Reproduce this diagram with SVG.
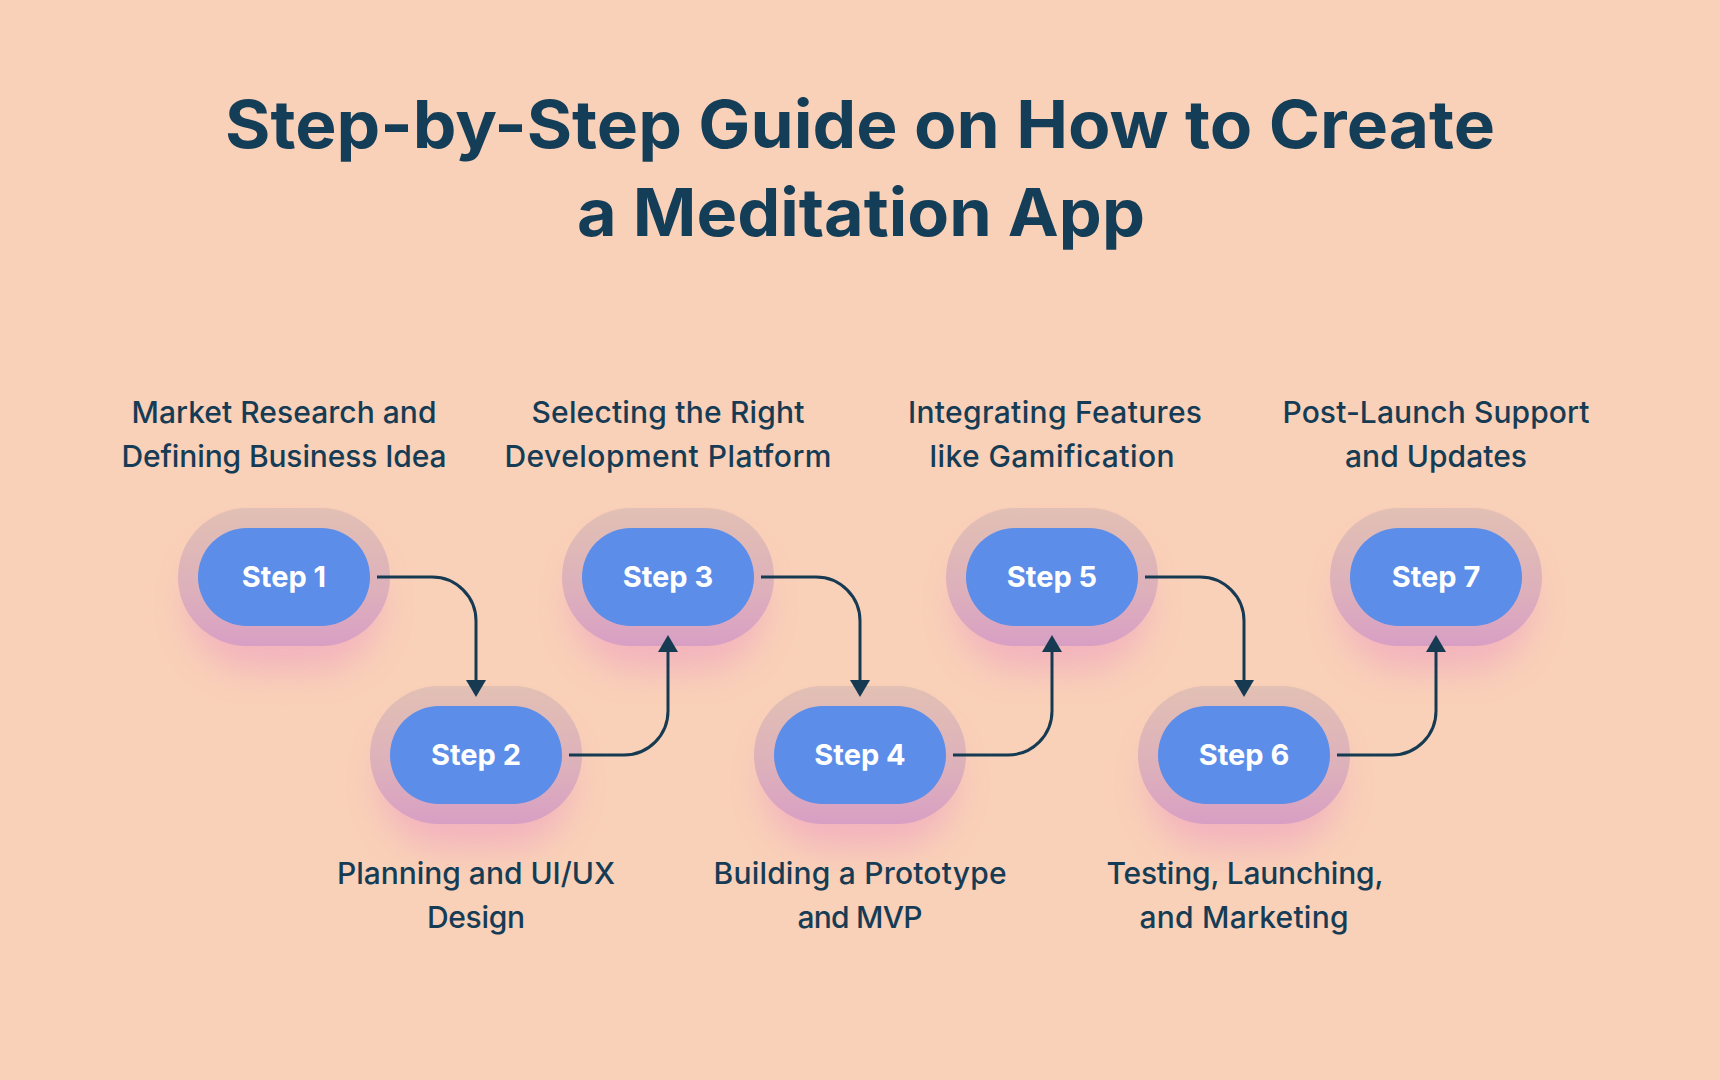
<svg xmlns="http://www.w3.org/2000/svg" width="1720" height="1080" viewBox="0 0 1720 1080">
  <defs>
    <linearGradient id="halo" x1="0" y1="0" x2="0" y2="1">
      <stop offset="0" stop-color="#e2c0b4"/>
      <stop offset="0.6" stop-color="#ddb0bb"/>
      <stop offset="1" stop-color="#d89fc4"/>
    </linearGradient>
    <filter id="glow" x="-40%" y="-40%" width="180%" height="180%">
      <feGaussianBlur stdDeviation="16"/>
    </filter>
    <marker id="arrow" viewBox="0 0 17 20" refX="7" refY="10" markerWidth="17" markerHeight="20" markerUnits="userSpaceOnUse" orient="auto">
      <path d="M0,0 L17,10 L0,20 Z" fill="#163a52"/>
    </marker>
    <style>
      .title { font-family: Inter, "Liberation Sans", sans-serif; font-weight: 700; font-size: 66px; fill: #143d57; text-anchor: middle; }
      .label { font-family: Inter, "Liberation Sans", sans-serif; font-weight: 500; font-size: 30px; fill: #163c55; text-anchor: middle; }
      .step { font-family: Inter, "Liberation Sans", sans-serif; font-weight: 700; font-size: 29px; fill: #ffffff; text-anchor: middle; }
      .halo { fill: url(#halo); }
      .shadow { fill: #f0a8bf; opacity: 0.7; }
      .pill { fill: #5b8de9; }
      .conn { fill: none; stroke: #163a52; stroke-width: 3; }
    </style>
  </defs>

  <rect x="0" y="0" width="1720" height="1080" fill="#f9d0b8"/>

  <g id="title">
    <text class="title" x="860" y="148" textLength="1270" lengthAdjust="spacingAndGlyphs">Step-by-Step Guide on How to Create</text>
    <text class="title" x="861" y="236" textLength="568" lengthAdjust="spacingAndGlyphs">a Meditation App</text>
  </g>

  <g id="step1">
    <rect class="shadow" x="188" y="540" width="192" height="130" rx="65" filter="url(#glow)"/>
    <rect class="halo" x="178" y="508" width="212" height="138" rx="69"/>
    <rect class="pill" x="198" y="528" width="172" height="98" rx="49"/>
    <text class="step" x="284" y="587">Step 1</text>
    <text class="label" x="284" y="423" textLength="305">Market Research and</text>
    <text class="label" x="284" y="467" textLength="325">Defining Business Idea</text>
  </g>

  <g id="step2">
    <rect class="shadow" x="380" y="718" width="192" height="130" rx="65" filter="url(#glow)"/>
    <rect class="halo" x="370" y="686" width="212" height="138" rx="69"/>
    <rect class="pill" x="390" y="706" width="172" height="98" rx="49"/>
    <text class="step" x="476" y="765">Step 2</text>
    <text class="label" x="476" y="884" textLength="278">Planning and UI/UX</text>
    <text class="label" x="476" y="928" textLength="98">Design</text>
  </g>

  <g id="step3">
    <rect class="shadow" x="572" y="540" width="192" height="130" rx="65" filter="url(#glow)"/>
    <rect class="halo" x="562" y="508" width="212" height="138" rx="69"/>
    <rect class="pill" x="582" y="528" width="172" height="98" rx="49"/>
    <text class="step" x="668" y="587">Step 3</text>
    <text class="label" x="668" y="423" textLength="273">Selecting the Right</text>
    <text class="label" x="668" y="467" textLength="327">Development Platform</text>
  </g>

  <g id="step4">
    <rect class="shadow" x="764" y="718" width="192" height="130" rx="65" filter="url(#glow)"/>
    <rect class="halo" x="754" y="686" width="212" height="138" rx="69"/>
    <rect class="pill" x="774" y="706" width="172" height="98" rx="49"/>
    <text class="step" x="860" y="765">Step 4</text>
    <text class="label" x="860" y="884" textLength="293">Building a Prototype</text>
    <text class="label" x="860" y="928" textLength="125">and MVP</text>
  </g>

  <g id="step5">
    <rect class="shadow" x="956" y="540" width="192" height="130" rx="65" filter="url(#glow)"/>
    <rect class="halo" x="946" y="508" width="212" height="138" rx="69"/>
    <rect class="pill" x="966" y="528" width="172" height="98" rx="49"/>
    <text class="step" x="1052" y="587">Step 5</text>
    <text class="label" x="1055" y="423" textLength="294">Integrating Features</text>
    <text class="label" x="1052" y="467" textLength="245">like Gamification</text>
  </g>

  <g id="step6">
    <rect class="shadow" x="1148" y="718" width="192" height="130" rx="65" filter="url(#glow)"/>
    <rect class="halo" x="1138" y="686" width="212" height="138" rx="69"/>
    <rect class="pill" x="1158" y="706" width="172" height="98" rx="49"/>
    <text class="step" x="1244" y="765">Step 6</text>
    <text class="label" x="1245" y="884" textLength="277">Testing, Launching,</text>
    <text class="label" x="1244" y="928" textLength="209">and Marketing</text>
  </g>

  <g id="step7">
    <rect class="shadow" x="1340" y="540" width="192" height="130" rx="65" filter="url(#glow)"/>
    <rect class="halo" x="1330" y="508" width="212" height="138" rx="69"/>
    <rect class="pill" x="1350" y="528" width="172" height="98" rx="49"/>
    <text class="step" x="1436" y="587">Step 7</text>
    <text class="label" x="1436" y="423" textLength="307">Post-Launch Support</text>
    <text class="label" x="1436" y="467" textLength="182">and Updates</text>
  </g>

  <g id="connectors">
    <path class="conn" d="M377,577 H432 A44,44 0 0 1 476,621 V687" marker-end="url(#arrow)"/>
    <path class="conn" d="M569,755 H624 A44,44 0 0 0 668,711 V645" marker-end="url(#arrow)"/>
    <path class="conn" d="M761,577 H816 A44,44 0 0 1 860,621 V687" marker-end="url(#arrow)"/>
    <path class="conn" d="M953,755 H1008 A44,44 0 0 0 1052,711 V645" marker-end="url(#arrow)"/>
    <path class="conn" d="M1145,577 H1200 A44,44 0 0 1 1244,621 V687" marker-end="url(#arrow)"/>
    <path class="conn" d="M1337,755 H1392 A44,44 0 0 0 1436,711 V645" marker-end="url(#arrow)"/>
  </g>
</svg>
